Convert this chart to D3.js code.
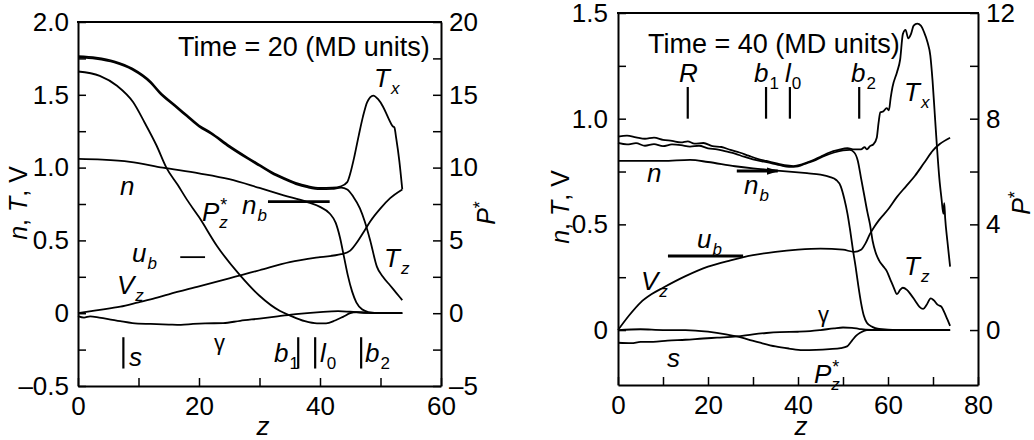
<!DOCTYPE html>
<html>
<head>
<meta charset="utf-8">
<script src="https://cdn.jsdelivr.net/npm/d3@7"></script>
<style>
  body { margin: 0; background: #fff; }
  svg { font-family: "Liberation Sans", Arial, Helvetica, sans-serif; }
</style>
</head>
<body>
<svg></svg>
<script>
// ---------- Time = 20 panel (z, value); P* curves in P* units ----------
const tx20 = [[0,1.765],[3,1.755],[6,1.73],[9,1.68],[12,1.59],[13.5,1.52],[16,1.43],[18,1.36],[20,1.29],[22,1.24],[25,1.15],[28,1.07],[30,1.02],[32,0.97],[34,0.93],[36,0.895],[38,0.872],[40,0.86],[42,0.862],[43.5,0.872],[44.5,0.9],[45,0.96],[45.7,1.08],[46.4,1.22],[47.1,1.35],[47.8,1.45],[48.8,1.495],[49.6,1.47],[50.4,1.42],[51.3,1.34],[52,1.285],[52.3,1.275],[52.6,1.2],[53.1,1.05],[53.6,0.85]];
const tz20 = [[0,1.757],[3,1.747],[6,1.722],[9,1.672],[12,1.582],[13.5,1.512],[16,1.422],[18,1.352],[20,1.282],[22,1.232],[25,1.142],[28,1.062],[30,1.012],[32,0.962],[34,0.922],[36,0.887],[38,0.864],[40,0.852],[42,0.854],[43.5,0.862],[44.5,0.85],[45.5,0.8],[46.6,0.72],[47.4,0.63],[48.3,0.5],[49.4,0.32],[50.4,0.25],[51.6,0.19],[52.6,0.14],[53.6,0.09]];
const n20 = [[0,1.06],[4,1.055],[8.6,1.04],[14,1.0],[20,0.96],[25,0.92],[30,0.86],[34,0.81],[37.8,0.765],[40,0.73],[41.6,0.685],[42.6,0.62],[43.3,0.52],[44,0.38],[44.6,0.26],[45.3,0.15],[46,0.075],[47,0.025],[48,0.008],[50,0],[53.6,0]];
const pz20 = [[0,16.6],[3.6,16.3],[6.5,15.6],[9.1,14.5],[11,13.1],[13,11.5],[14.6,10],[16.5,8.8],[18,7.8],[20,6.6],[23,4.6],[26.8,2.6],[30,1.2],[33.4,0.15],[35,-0.15],[37.5,-0.55],[39.5,-0.7],[41,-0.7],[42.5,-0.5],[43.8,-0.25],[45,0],[46,0.08],[48,0.02],[50,0],[53.6,0]];
const g20 = [[0,-0.02],[1,-0.03],[2,-0.022],[3.5,-0.03],[5,-0.04],[7,-0.055],[9,-0.068],[12,-0.074],[15,-0.078],[17,-0.08],[19,-0.074],[21,-0.07],[24,-0.068],[26.8,-0.052],[30,-0.037],[33,-0.022],[36,-0.006],[40,0.008],[43,0.014],[45,0.01],[48,0.002],[53.6,0]];
const vz20 = [[0,0],[3,0.02],[7,0.045],[10,0.075],[12,0.095],[15,0.13],[20,0.185],[25,0.24],[27,0.262],[30,0.295],[35,0.35],[40,0.385],[43.5,0.405],[45,0.43],[46,0.48],[47.4,0.57],[48.3,0.63],[50,0.72],[51.6,0.79],[53.6,0.85]];
const nb20 = [31.4, 41.6, 0.766];   // z from, z to, level
const ub20 = [16.9, 21, 0.385];
const marks20 = [7.5, 36.4, 39.2, 46.8];   // s, b1, l0, b2
const markSpan20 = [-0.165, -0.38];

// ---------- Time = 40 panel ----------
const tx40 = [[0,0.915],[2,0.92],[4,0.912],[6,0.905],[8,0.91],[10,0.9],[12,0.895],[14,0.888],[15.5,0.893],[17,0.882],[19,0.885],[21,0.87],[23,0.866],[25,0.852],[27,0.84],[29,0.825],[31,0.81],[33,0.8],[35,0.79],[37,0.78],[39,0.776],[41,0.785],[43,0.8],[45,0.82],[47,0.84],[49,0.852],[51,0.86],[52.5,0.855],[54,0.855],[54.8,0.865],[55.3,0.855],[56,0.87],[56.8,0.88],[57.5,0.91],[57.9,0.98],[58.3,1.03],[59,1.035],[59.7,1.05],[60.2,1.04],[60.6,1.1],[61,1.15],[62,1.22],[62.7,1.28],[63.3,1.4],[63.9,1.42],[64.5,1.38],[65.1,1.4],[65.7,1.44],[66.5,1.45],[67.3,1.44],[68,1.41],[68.8,1.36],[69.4,1.3],[69.9,1.18],[70.4,1.02],[70.9,0.86],[71.4,0.72],[71.9,0.62],[72.3,0.55],[72.5,0.6],[72.7,0.53],[73.2,0.42],[73.8,0.3]];
const tz40 = [[0,0.885],[2,0.878],[4,0.884],[6,0.872],[8,0.88],[10,0.87],[12,0.878],[14,0.875],[16,0.868],[18,0.872],[20,0.86],[22,0.855],[24,0.845],[26,0.835],[28,0.82],[30,0.808],[32,0.798],[34,0.79],[36,0.78],[38,0.772],[40,0.775],[42,0.79],[44,0.805],[46,0.825],[48,0.84],[50,0.85],[51.5,0.852],[52.5,0.84],[53.3,0.8],[54,0.72],[54.7,0.64],[55.4,0.56],[56,0.5],[56.6,0.42],[57.2,0.37],[58,0.33],[59,0.3],[59.7,0.28],[60.5,0.24],[61.3,0.2],[62,0.17],[62.7,0.19],[63.3,0.2],[64.2,0.19],[65,0.17],[66,0.14],[67,0.11],[67.8,0.1],[68.6,0.12],[69.5,0.15],[70.2,0.14],[71,0.12],[71.9,0.11],[72.6,0.08],[73.2,0.05],[73.8,0.02]];
const n40 = [[0,0.8],[5,0.8],[10,0.8],[16,0.805],[20,0.795],[26,0.775],[30,0.765],[34,0.757],[38,0.75],[42,0.742],[45,0.735],[47,0.725],[48.5,0.71],[49.5,0.68],[50.3,0.62],[51,0.55],[51.6,0.47],[52.2,0.38],[52.8,0.3],[53.4,0.21],[54,0.13],[54.6,0.07],[55.3,0.035],[56.5,0.015],[58,0.005],[62,0],[73.8,0]];
const vz40 = [[0,0],[2.5,0.07],[5,0.13],[7.5,0.17],[10,0.2],[15,0.255],[20,0.3],[25,0.33],[30,0.355],[35,0.37],[40,0.38],[45,0.385],[50,0.38],[52.5,0.37],[54,0.38],[55,0.41],[56,0.455],[57,0.49],[58,0.52],[60,0.57],[62,0.63],[64,0.68],[66,0.73],[68,0.79],[70,0.85],[71.5,0.88],[73.8,0.91]];
const pz40 = [[0,0],[5,0.03],[10,0],[15,0],[20,-0.06],[24,-0.16],[26.4,-0.24],[29,-0.36],[31.6,-0.48],[35,-0.62],[38,-0.7],[41,-0.76],[44,-0.75],[47,-0.72],[49.5,-0.68],[50.9,-0.62],[52,-0.4],[53,-0.2],[53.8,-0.1],[55.3,0],[60,0],[73.8,0]];
const g40 = [[0,-0.06],[3,-0.062],[5,-0.056],[7.8,-0.056],[11,-0.05],[15,-0.046],[18.9,-0.04],[22,-0.036],[26.4,-0.03],[30,-0.02],[33,-0.014],[36,-0.01],[40,-0.008],[42.7,-0.005],[45,0],[48,0.008],[50,0.012],[52,0.01],[53.5,0.006],[55,0.002],[58,0],[73.8,0]];
const nb40 = [26.4, 35.5, 0.752];
const ub40 = [11.1, 27.8, 0.35];
const marks40 = [15.5, 32.9, 38.2, 53.6];   // R, b1, l0, b2
const markSpan40 = [1.0, 1.15];

// ---------- tick values and labels ----------
const zTicks20 = [0, 10, 20, 30, 40, 50, 60];
const zLabVals20 = [0, 20, 40, 60];
const zLabs20 = ['0', '20', '40', '60'];
const vTicks20 = [-0.5, -0.25, 0, 0.25, 0.5, 0.75, 1, 1.25, 1.5, 1.75, 2];
const vLabVals20 = [-0.5, 0, 0.5, 1, 1.5, 2];
const vLabs20 = ['\u20130.5', '0', '0.5', '1.0', '1.5', '2.0'];
const pTicks20 = [-5, -2.5, 0, 2.5, 5, 7.5, 10, 12.5, 15, 17.5, 20];
const pLabVals20 = [-5, 0, 5, 10, 15, 20];
const pLabs20 = ['\u20135', '0', '5', '10', '15', '20'];

const zTicks40 = [0, 10, 20, 30, 40, 50, 60, 70, 80];
const zLabVals40 = [0, 20, 40, 60, 80];
const zLabs40 = ['0', '20', '40', '60', '80'];
const vTicks40 = [0, 0.25, 0.5, 0.75, 1, 1.25, 1.5];
const vLabVals40 = [0, 0.5, 1, 1.5];
const vLabs40 = ['0', '0.5', '1.0', '1.5'];
const pTicks40 = [0, 2, 4, 6, 8, 10, 12];
const pLabVals40 = [0, 4, 8, 12];
const pLabs40 = ['0', '4', '8', '12'];

const svg = d3.select('svg').attr('width', 1034).attr('height', 440);

const defs = svg.append('defs');
defs.append('marker')
    .attr('id', 'arrow')
    .attr('viewBox', '0 0 10 6')
    .attr('refX', 9).attr('refY', 3)
    .attr('markerWidth', 4).attr('markerHeight', 3)
    .attr('orient', 'auto')
  .append('path')
    .attr('d', 'M0,0L10,3L0,6z');

function fmtFrom(vals, labs) {
  return v => {
    const i = vals.findIndex(u => Math.abs(u - v) < 1e-9);
    return i < 0 ? '' : labs[i];
  };
}

function put(g, d) {
  const t = g.append('text')
      .attr('x', d.x).attr('y', d.y)
      .attr('font-size', d.fs || 26);
  t.append('tspan').text(d.t).attr('font-style', d.up ? 'normal' : 'italic');
  if (d.sup) {
    t.append('tspan').text(d.sup).attr('font-size', 18).attr('font-style', 'normal')
        .attr('dx', 1).attr('dy', -10);
  }
  if (d.sub) {
    t.append('tspan').text(d.sub).attr('font-size', 17)
        .attr('font-style', /\d/.test(d.sub) ? 'normal' : 'italic')
        .attr('dx', d.sup ? -8 : 1).attr('dy', d.sup ? 17 : 7);
  }
}

function yLabel(g, x, y, parts) {
  const t = g.append('text')
      .attr('transform', `translate(${x},${y}) rotate(-90)`)
      .attr('text-anchor', 'middle')
      .attr('font-size', 25);
  parts.forEach(p => {
    const s = t.append('tspan').text(p[0]).attr('font-style', p[1] ? 'italic' : 'normal');
    if (p[2]) s.attr('font-size', 18).attr('dy', -9);
  });
}

function drawPanel(p) {
  const x = d3.scaleLinear(p.zDom, [p.x0, p.x1]);
  const y = d3.scaleLinear(p.vDom, [p.y1, p.y0]);
  const yp = d3.scaleLinear(p.pDom, [p.y1, p.y0]);
  const g = svg.append('g');

  const styleAxis = a => {
    a.attr('font-size', null).attr('font-family', null);
    a.select('.domain').attr('stroke-width', 2);
    a.selectAll('.tick line').attr('stroke-width', 1.5);
    a.selectAll('text').attr('font-size', 26).attr('fill', '#000');
  };

  g.append('g')
      .attr('transform', `translate(0,${p.y1})`)
      .call(d3.axisBottom(x).tickValues(p.zTicks).tickFormat(fmtFrom(p.zLabVals, p.zLabs))
        .tickSizeInner(-8).tickSizeOuter(0).tickPadding(11))
      .call(styleAxis);

  g.append('g')
      .attr('transform', `translate(${p.x0},0)`)
      .call(d3.axisLeft(y).tickValues(p.vTicks).tickFormat(fmtFrom(p.vLabVals, p.vLabs))
        .tickSizeInner(-8).tickSizeOuter(0).tickPadding(p.padL))
      .call(styleAxis);

  g.append('g')
      .attr('transform', `translate(${p.x1},0)`)
      .call(d3.axisRight(yp).tickValues(p.pTicks).tickFormat(fmtFrom(p.pLabVals, p.pLabs))
        .tickSizeInner(-8).tickSizeOuter(0).tickPadding(p.padR))
      .call(styleAxis);

  g.append('line')
      .attr('x1', p.x0 - 1).attr('x2', p.x1 + 1)
      .attr('y1', p.y0).attr('y2', p.y0)
      .attr('stroke', '#000').attr('stroke-width', 2);

  const line = sc => d3.line()
      .x(d => x(d[0]))
      .y(d => sc(d[1]))
      .curve(d3.curveMonotoneX);

  p.curves.forEach(c => {
    g.append('path')
        .attr('d', line(c.p ? yp : y)(c.data))
        .attr('fill', 'none')
        .attr('stroke', '#000')
        .attr('stroke-width', 1.8)
        .attr('stroke-linejoin', 'round');
  });

  // short reference segments n_b, u_b
  p.segs.forEach(s => {
    const l = g.append('line')
        .attr('x1', x(s.d[0])).attr('x2', x(s.d[1]))
        .attr('y1', y(s.d[2])).attr('y2', y(s.d[2]))
        .attr('stroke', '#000').attr('stroke-width', s.w);
    if (s.arrow) l.attr('marker-end', 'url(#arrow)');
  });

  // position markers
  g.selectAll('.mark')
    .data(p.marks)
    .enter().append('line')
      .attr('x1', d => x(d)).attr('x2', d => x(d))
      .attr('y1', y(p.markSpan[0])).attr('y2', y(p.markSpan[1]))
      .attr('stroke', '#000').attr('stroke-width', 2.2);

  p.labels.forEach(d => put(g, d));

  yLabel(g, p.yLabX, p.yLabY, [['n', 1], [', ', 0], ['T', 1], [', ', 0], ['V', 0]]);
  yLabel(g, p.pLabX, p.pLabY, [['P', 1], ['*', 0, 1]]);
  g.append('text')
      .attr('x', p.zLabX).attr('y', 435)
      .attr('text-anchor', 'middle')
      .attr('font-size', 26).attr('font-style', 'italic')
      .text('z');
}

drawPanel({
  x0: 78, x1: 441, y0: 22, y1: 386,
  zDom: [0, 60], vDom: [-0.5, 2.0], pDom: [-5, 20],
  zTicks: zTicks20, zLabVals: zLabVals20, zLabs: zLabs20,
  vTicks: vTicks20, vLabVals: vLabVals20, vLabs: vLabs20,
  pTicks: pTicks20, pLabVals: pLabVals20, pLabs: pLabs20,
  padL: 9, padR: 8,
  curves: [
    {data: tx20}, {data: tz20}, {data: n20}, {data: pz20, p: true},
    {data: g20}, {data: vz20}
  ],
  segs: [{d: nb20, w: 2.6}, {d: ub20, w: 1.8}],
  marks: marks20, markSpan: markSpan20,
  labels: [
    {t: 'Time = 20 (MD units)', x: 178, y: 56, up: true, fs: 27},
    {t: 'T', sub: 'x', x: 374, y: 87},
    {t: 'n', x: 120, y: 195},
    {t: 'P', sup: '*', sub: 'z', x: 202, y: 221},
    {t: 'n', sub: 'b', x: 242, y: 214},
    {t: 'u', sub: 'b', x: 132, y: 262},
    {t: 'V', sub: 'z', x: 117, y: 294},
    {t: '\u03b3', x: 214, y: 350, up: true, fs: 22},
    {t: 'T', sub: 'z', x: 384, y: 267},
    {t: 's', x: 129, y: 366},
    {t: 'b', sub: '1', x: 274, y: 362},
    {t: 'l', sub: '0', x: 320, y: 362},
    {t: 'b', sub: '2', x: 365, y: 362}
  ],
  yLabX: 27, yLabY: 203, pLabX: 495, pLabY: 213, zLabX: 263
});

drawPanel({
  x0: 618, x1: 978, y0: 13, y1: 385,
  zDom: [0, 80], vDom: [-0.26, 1.5], pDom: [-2.08, 12],
  zTicks: zTicks40, zLabVals: zLabVals40, zLabs: zLabs40,
  vTicks: vTicks40, vLabVals: vLabVals40, vLabs: vLabs40,
  pTicks: pTicks40, pLabVals: pLabVals40, pLabs: pLabs40,
  padL: 10, padR: 8,
  curves: [
    {data: tx40}, {data: tz40}, {data: n40}, {data: vz40},
    {data: pz40, p: true}, {data: g40}
  ],
  segs: [{d: nb40, w: 3, arrow: true}, {d: ub40, w: 3}],
  marks: marks40, markSpan: markSpan40,
  labels: [
    {t: 'Time = 40 (MD units)', x: 648, y: 53, up: true, fs: 27},
    {t: 'R', x: 679, y: 82},
    {t: 'b', sub: '1', x: 754, y: 82},
    {t: 'l', sub: '0', x: 785, y: 82},
    {t: 'b', sub: '2', x: 851, y: 82},
    {t: 'T', sub: 'x', x: 904, y: 101},
    {t: 'n', x: 647, y: 182},
    {t: 'n', sub: 'b', x: 744, y: 194},
    {t: 'u', sub: 'b', x: 697, y: 248},
    {t: 'V', sub: 'z', x: 641, y: 290},
    {t: 'T', sub: 'z', x: 904, y: 275},
    {t: '\u03b3', x: 818, y: 322, up: true, fs: 22},
    {t: 's', x: 667, y: 367},
    {t: 'P', sup: '*', sub: 'z', x: 814, y: 383}
  ],
  yLabX: 569, yLabY: 207, pLabX: 1030, pLabY: 203, zLabX: 801
});
</script>
</body>
</html>
